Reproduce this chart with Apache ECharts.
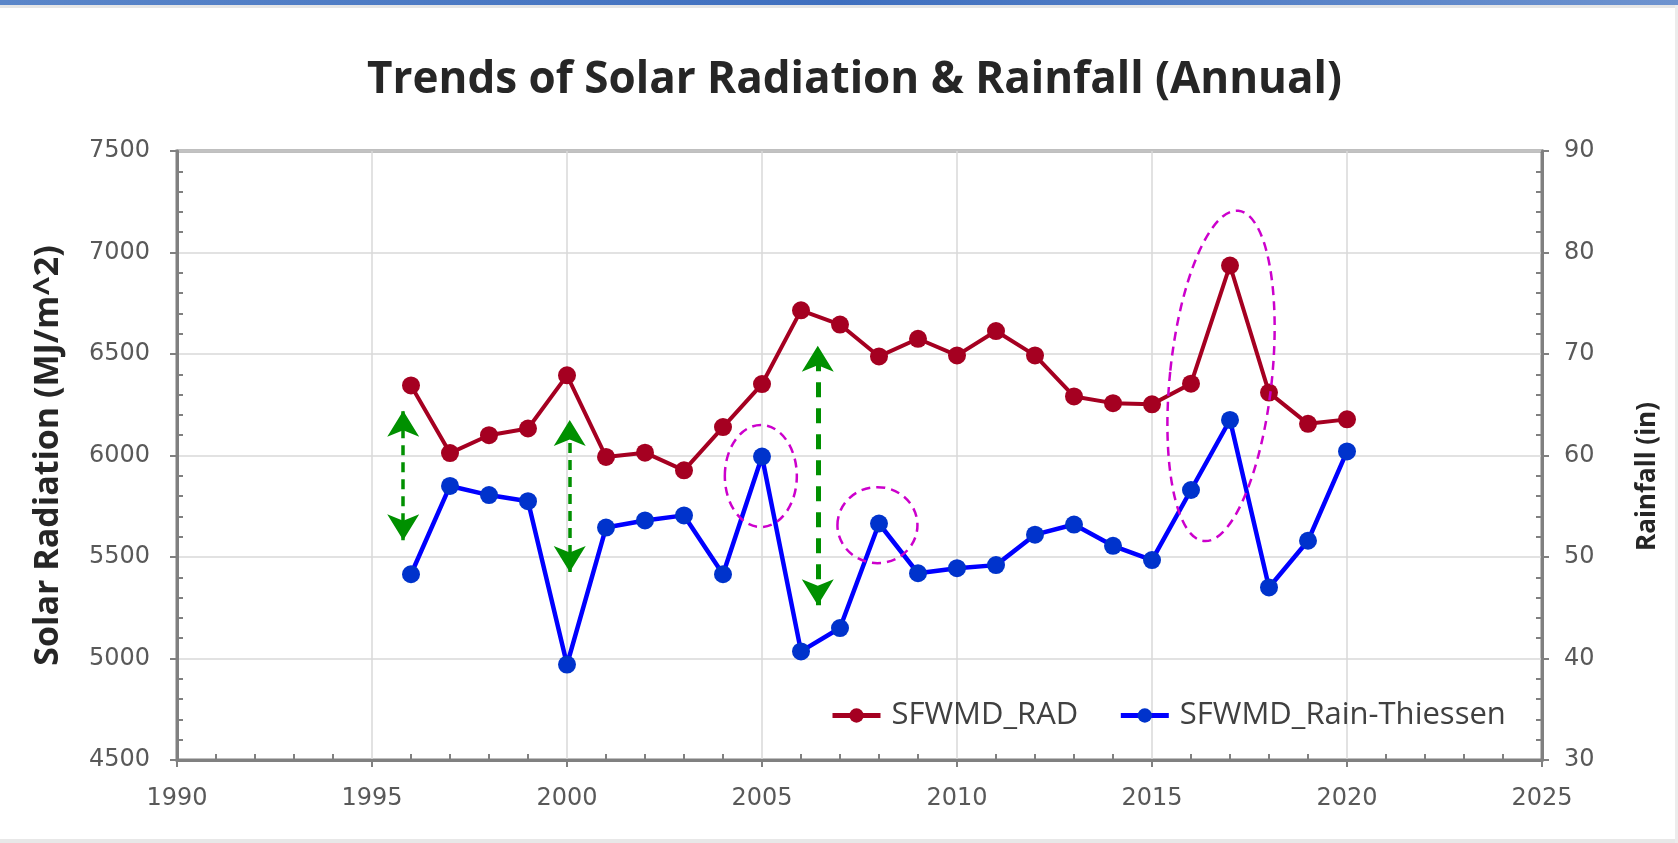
<!DOCTYPE html>
<html>
<head>
<meta charset="utf-8">
<script src="https://cdn.jsdelivr.net/npm/echarts@6/dist/echarts.min.js"></script>
<style>
  * { margin: 0; padding: 0; }
  html, body { width: 1678px; height: 843px; background: #fff; overflow: hidden; }
  #main { width: 1678px; height: 843px; }
</style>
</head>
<body>
<div id="main"></div>
<script>
// 年份
var years = [1996, 1997, 1998, 1999, 2000, 2001, 2002, 2003, 2004, 2005, 2006, 2007, 2008,
  2009, 2010, 2011, 2012, 2013, 2014, 2015, 2016, 2017, 2018, 2019, 2020];
// solar radiation, MJ/m^2 (left axis)
var radValues = [6345, 6012, 6100, 6133, 6395, 5993, 6014, 5927, 6140, 6352, 6715, 6645, 6488,
  6575, 6493, 6613, 6493, 6291, 6258, 6252, 6354, 6936, 6310, 6156, 6178];
// rainfall, inches (right axis)
var rainValues = [48.3, 57.0, 56.1, 55.5, 39.4, 52.9, 53.6, 54.1, 48.3, 59.9, 40.7, 43.0, 53.3,
  48.4, 48.9, 49.2, 52.2, 53.2, 51.1, 49.7, 56.6, 63.5, 47.0, 51.6, 60.4];
var seriesNames = ["SFWMD_RAD", "SFWMD_Rain-Thiessen"];
var xTicks = [1990, 2025, 5];
var leftTicks = [4500, 7500, 500];
var rightTicks = [30, 90, 10];

// green double arrows: [year, from, to] in left-axis units
var arrows = [[1995.8, 5582, 6221], [2000.07, 5426, 6175], [2006.43, 5262, 6541]];
// dashed ellipses: [year, value] centres
var rings = [[2004.97, 5899], [2007.96, 5657], [2016.77, 6392]];

var radData = years.map(function (y, i) { return [y, radValues[i]]; });
var rainData = years.map(function (y, i) { return [y, rainValues[i]]; });

var axisGrey = "#808080";
var labelFont = {
  color: "#595959", fontSize: 24, fontFamily: "DejaVu Sans",
  formatter: function (v) { return String(v); } // no thousands comma
};

function valueAxis(t, extra) {
  return Object.assign({
    type: "value",
    min: t[0], max: t[1], interval: t[2],
    axisLine: { show: true, lineStyle: { color: axisGrey, width: 3 } },
    axisTick: { show: true, length: 7, lineStyle: { color: axisGrey, width: 2 } },
    minorTick: { show: true, splitNumber: 5, length: -6, lineStyle: { color: axisGrey, width: 2 } },
    axisLabel: Object.assign({ margin: 17 }, labelFont),
    splitLine: { show: true, lineStyle: { color: "#d9d9d9", width: 1.5 } }
  }, extra || {});
}

var arrowLines = arrows.map(function (a, i) {
  var big = i === 2;
  return [
    { coord: [a[0], a[1]], lineStyle: { width: big ? 5 : 3.5, type: big ? [15, 11] : [10, 7] } },
    { coord: [a[0], a[2]] }
  ];
});

var chart = echarts.init(document.getElementById("main"));
chart.setOption({
  animation: false,
  backgroundColor: "#fff",
  title: {
    text: "Trends of Solar Radiation & Rainfall (Annual)",
    left: 362, top: 53,
    textStyle: { fontFamily: "Open Sans", fontWeight: "bold", fontSize: 44, color: "#262626" }
  },
  grid: {
    left: 177, right: 136, top: 151, bottom: 83,
    show: true, borderColor: axisGrey, borderWidth: 3, backgroundColor: "transparent"
  },
  legend: {
    data: seriesNames,
    left: 825, top: 695,
    itemWidth: 48, itemHeight: 18, itemGap: 40,
    lineStyle: { width: 5 },
    textStyle: { fontSize: 31, color: "#404040", fontFamily: "Open Sans", padding: [0, 0, 0, 6] }
  },
  xAxis: valueAxis(xTicks, { axisLabel: Object.assign({ margin: 27 }, labelFont) }),
  yAxis: [
    valueAxis(leftTicks, {
      axisLabel: Object.assign({ margin: 27 }, labelFont),
      name: "Solar Radiation (MJ/m^2)",
      nameLocation: "middle", nameGap: 112,
      nameTextStyle: { fontFamily: "Open Sans", fontWeight: "bold", fontSize: 34, color: "#262626" }
    }),
    valueAxis(rightTicks, {
      position: "right",
      axisLabel: Object.assign({ margin: 22 }, labelFont),
      splitLine: { show: false },
      name: "Rainfall (in)",
      nameLocation: "middle", nameGap: 93,
      nameTextStyle: {
        fontFamily: "Open Sans", fontWeight: "bold", fontSize: 26, color: "#262626",
        padding: [0, 42, 0, 0]
      }
    })
  ],
  series: [
    {
      name: seriesNames[0], type: "line", yAxisIndex: 0,
      data: radData, symbol: "circle", symbolSize: 18,
      itemStyle: { color: "#a50021" },
      lineStyle: { color: "#a50021", width: 4 },
      markLine: {
        silent: true, animation: false,
        symbol: ["arrow", "arrow"], symbolSize: [24, 26],
        label: { show: false },
        lineStyle: { color: "#009000", width: 3.5, type: "dashed" },
        emphasis: { disabled: true },
        data: arrowLines
      },
      z: 3
    },
    {
      name: seriesNames[1], type: "line", yAxisIndex: 1,
      data: rainData, symbol: "circle", symbolSize: 18,
      itemStyle: { color: "#0033cc" },
      lineStyle: { color: "#0000ff", width: 4.5 },
      z: 3
    }
  ]
});

// dashed magenta rings, placed from data coordinates
var ringSize = [[36, 51, 0], [40, 38, 0], [51, 166, -6]];
var ringEls = rings.map(function (r, i) {
  var p = chart.convertToPixel({ xAxisIndex: 0, yAxisIndex: 0 }, r);
  return {
    type: "ellipse", x: p[0], y: p[1],
    rotation: ringSize[i][2] * Math.PI / 180,
    shape: { cx: 0, cy: 0, rx: ringSize[i][0], ry: ringSize[i][1] },
    style: { fill: null, stroke: "#cc00cc", lineWidth: 2.5, lineDash: [9, 6] },
    silent: true, z: 10
  };
});
chart.setOption({
  graphic: [
    { type: "rect", shape: { x: 0, y: 0, width: 1678, height: 5 },
      style: { fill: new echarts.graphic.LinearGradient(0, 0, 1, 0, [
        { offset: 0, color: "#5b86c9" }, { offset: 0.5, color: "#3f6fbf" }, { offset: 1, color: "#6e93cf" }]) },
      silent: true },
    { type: "rect", shape: { x: 0, y: 5, width: 1678, height: 3 }, style: { fill: "#e6e6e6" }, silent: true },
    { type: "rect", shape: { x: 0, y: 839, width: 1678, height: 4 }, style: { fill: "#e8e8e8" }, silent: true },
    { type: "rect", shape: { x: 1675, y: 5, width: 3, height: 838 }, style: { fill: "#ececec" }, silent: true }
  ].concat(ringEls)
});
</script>
</body>
</html>
